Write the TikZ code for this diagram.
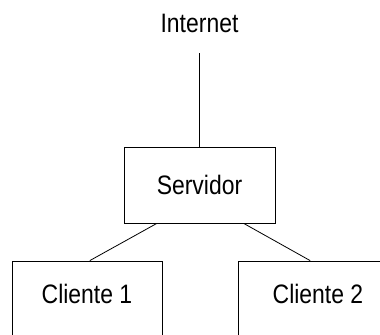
\documentclass[tikz,border=0pt]{standalone}
\usepackage{fontspec}
\setsansfont{Liberation Sans}[FakeStretch=0.86]
\usepackage{tikz}

\begin{document}
\begin{tikzpicture}[x=0.75pt,y=0.75pt,yscale=-1,xscale=1,
  caja/.style={draw, line width=0.6pt, inner sep=0pt, font=\sffamily\fontsize{20}{24}\selectfont},
  texto/.style={inner sep=0pt, font=\sffamily\fontsize{20}{24}\selectfont},
  linea/.style={line width=0.6pt}]
%set diagram area: 380 x 335
\clip (0,0) rectangle (380,335);

%Shape: Rectangle [Servidor]
\node [caja, minimum width=113.25pt, minimum height=57pt] (srv) at (199.5,185) {Servidor};
%Shape: Rectangle [Cliente 1]
\node [caja, minimum width=112.5pt, minimum height=60pt, text depth=10.5pt] (cli1) at (87,301) {Cliente 1};
%Shape: Rectangle [Cliente 2]
\node [caja, minimum width=120pt, minimum height=60pt, text depth=10.5pt] (cli2) at (318,301) {Cliente 2};

% Text Node
\node [texto, anchor=north] (inet) at (199.5,14) {Internet};

%Straight Lines
\draw [linea] ([yshift=15pt]inet.south) -- (srv.north) ;
%Straight Lines
\draw [linea] (srv.222) -- (cli1.86) ;
%Straight Lines
\draw [linea] (srv.319) -- (cli2.101) ;
\end{tikzpicture}
\end{document}
